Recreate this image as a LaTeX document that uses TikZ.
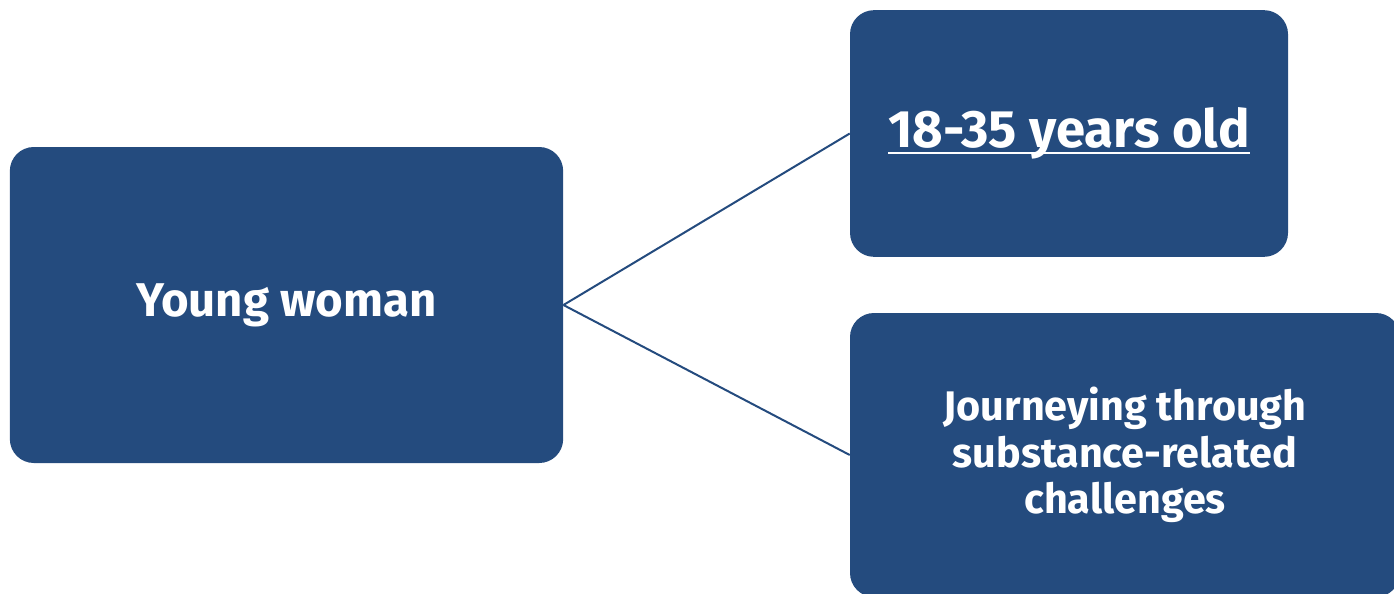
\documentclass[tikz,border=0pt]{standalone}
\usepackage{fontspec}
\setmainfont{Fira Sans}[UprightFont=* Bold,BoldFont=* Bold]
\newcommand\ulinebar[1]{\leavevmode\setbox0\hbox{#1}\rlap{\copy0}\rule[-4.5pt]{\wd0}{1.2pt}}
\definecolor{boxblue}{RGB}{36,75,126}
\tikzset{
  bluebox/.style={fill=boxblue, rounded corners=18pt, text=white, align=center, inner sep=0pt},
  link/.style={draw=boxblue, line width=1.5pt}
}
\begin{document}
\begin{tikzpicture}[x=0.75pt,y=0.75pt,yscale=-1,xscale=1]
\useasboundingbox (0,0) rectangle (1394,593);
\clip (0,0) rectangle (1394,593);
\node [bluebox, minimum width=415pt, minimum height=237pt, font=\fontsize{35.5}{41}\selectfont] (young) at (286.5,305) {Young woman};
\node [bluebox, minimum width=328.5pt, minimum height=185pt, font=\fontsize{39.5}{45}\selectfont] (age) at (1069,133.5) {\ulinebar{18-35 years old}};
\node [bluebox, minimum width=412.5pt, minimum height=213pt, font=\fontsize{31}{35}\selectfont] (journey) at (1125,455) {Journeying through\\substance-related\\challenges};
\draw [link] (young.east) -- (age.west);
\draw [link] (young.east) -- (journey.west);
\end{tikzpicture}
\end{document}
